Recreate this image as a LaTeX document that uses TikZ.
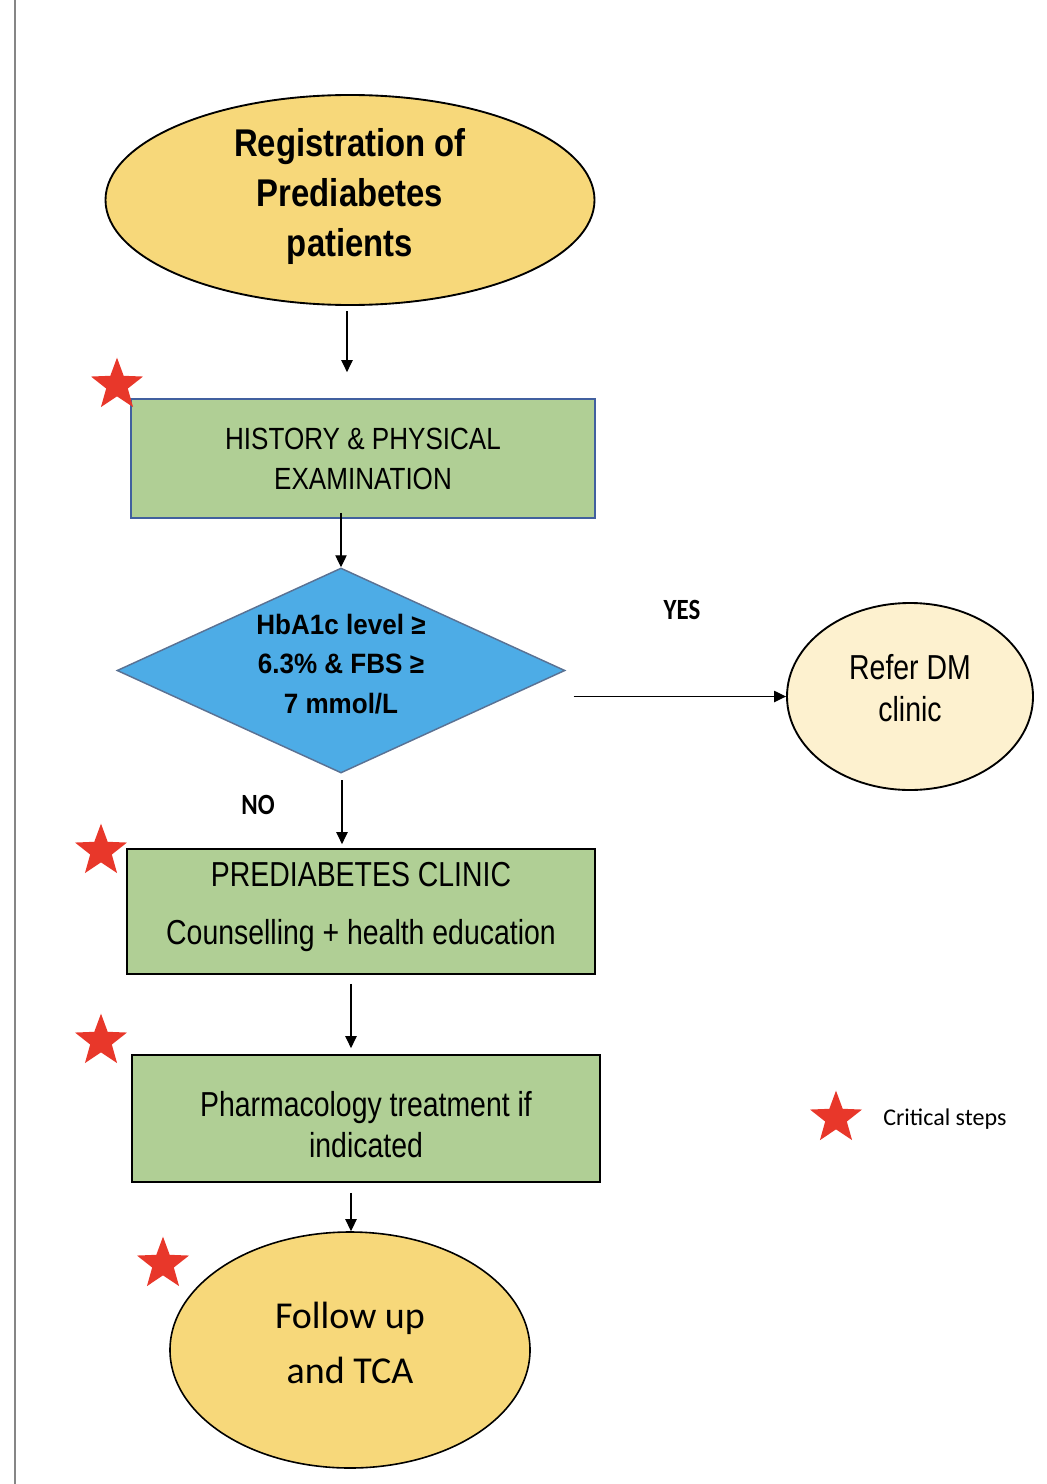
\documentclass[tikz,border=0pt]{standalone}
\usepackage{fontspec}
\setmainfont{Liberation Sans}
\newfontfamily\narrowfont{Liberation Sans}[FakeStretch=0.82]
\newfontfamily\headfont{Liberation Sans}[FakeStretch=0.85]
\newfontfamily\diafont{Liberation Sans}[FakeStretch=0.93]
\newfontfamily\calfont{Carlito}
\newfontfamily\calnarrow{Carlito}[FakeStretch=0.85]
\usetikzlibrary{shapes.geometric,arrows.meta}
\definecolor{termyellow}{HTML}{F7D87A}
\definecolor{boxgreen}{HTML}{B0CF95}
\definecolor{diablue}{HTML}{4DACE6}
\definecolor{diaedge}{HTML}{5A7294}
\definecolor{paleyellow}{HTML}{FDF1CF}
\definecolor{boxblue}{HTML}{41609F}
\definecolor{starred}{HTML}{E8372A}
\definecolor{railgray}{HTML}{868686}
\begin{document}
\begin{tikzpicture}[x=0.75pt,y=-0.75pt,
  terminal/.style={ellipse, draw=black, line width=1.4pt, fill=termyellow, inner sep=0pt},
  greenbox/.style={rectangle, draw=black, line width=1.3pt, fill=boxgreen, inner sep=0pt},
  decision/.style={diamond, aspect=2.185, draw=diaedge, line width=1.1pt, fill=diablue, inner sep=0pt},
  referoval/.style={ellipse, draw=black, line width=1.4pt, fill=paleyellow, inner sep=0pt},
  caption/.style={inner sep=0pt, align=center},
  flow/.style={draw=black, line width=0.9pt, -{Triangle[length=9pt,width=8.5pt]}},
  critstar/.style={star, star points=5, star point ratio=2.4, fill=starred, draw=none, minimum size=41pt, inner sep=0pt},
  branchlabel/.style={font={\calnarrow\bfseries\fontsize{22}{26}\selectfont}, inner sep=0pt}
]
\useasboundingbox (0,0) rectangle (1046,1484);
\coordinate (railtop) at (15,0);
\coordinate (railbot) at (15,1484);
\draw[railgray, line width=1.5pt] (railtop) -- (railbot);

% shapes
\node[terminal, minimum width=366.75pt, minimum height=157.5pt] (reg) at (350,200) {};
\node[greenbox, draw=boxblue, minimum width=348pt, minimum height=89.25pt] (hist) at (363,458.5) {};
\node[decision, minimum width=336pt, minimum height=153.75pt] (dia) at (341,670.5) {};
\node[referoval, minimum width=184.5pt, minimum height=140.25pt] (refer) at (910,696.5) {};
\node[greenbox, minimum width=351pt, minimum height=93.75pt] (prec) at (361,911.5) {};
\node[greenbox, minimum width=351pt, minimum height=95.25pt] (pharm) at (366,1118.5) {};
\node[terminal, line width=1.2pt, minimum width=270pt, minimum height=177pt] (follow) at (350,1350) {};

% texts
\node[caption, font={\headfont\bfseries\fontsize{29}{37.5}\selectfont}] (regtext)
  at ([yshift=2.6pt]reg.center) {Registration of\\Prediabetes\\patients};
\node[caption, font={\headfont\fontsize{23}{30}\selectfont}] (histtext)
  at ([yshift=-0.5pt]hist.center) {HISTORY \& PHYSICAL\\EXAMINATION};
\node[caption, font={\diafont\bfseries\fontsize{21}{29.6}\selectfont}] (diatext)
  at ([yshift=4.9pt]dia.center) {HbA1c level ≥\\6.3\% \& FBS ≥\\7 mmol/L};
\node[caption, font={\narrowfont\fontsize{26}{31.5}\selectfont}] (refertext)
  at ([yshift=6pt]refer.center) {Refer DM\\clinic};
\node[caption, font={\narrowfont\fontsize{26}{43.5}\selectfont}] (prectext)
  at ([yshift=3.75pt]prec.center) {PREDIABETES CLINIC\\Counselling + health education};
\node[caption, font={\narrowfont\fontsize{26}{30.75}\selectfont}] (pharmtext)
  at ([yshift=-4.5pt]pharm.center) {Pharmacology treatment if\\indicated};
\node[caption, font={\calfont\fontsize{28.5}{41}\selectfont}] (followtext)
  at ([yshift=5.25pt]follow.center) {Follow up\\and TCA};

% connectors
\draw[flow, shorten <=4pt, shorten >=19.5pt] ([xshift=-2.25pt]reg.south) -- ([xshift=-2.25pt]reg.south |- hist.north);
\draw[flow, shorten <=-4.5pt] (dia.north |- hist.south) -- (dia.north);
\draw[flow, shorten <=6pt] (dia.east |- refer.west) -- (refer.west);
\draw[flow, shorten <=5pt, shorten >=3pt] ([xshift=0.75pt]dia.south) -- ([xshift=0.75pt]dia.south |- prec.north);
\draw[flow, shorten <=6.75pt, shorten >=4.5pt] ([xshift=-7.5pt]prec.south) -- ([xshift=-7.5pt]prec.south |- pharm.north);
\draw[flow, shorten <=7.5pt] ([xshift=-11.25pt]pharm.south) -- ([xshift=-11.25pt]pharm.south |- follow.north);

% labels
\node[branchlabel] (yes) at (682,610) {YES};
\node[branchlabel] (no) at (258,805) {NO};

% critical step stars
\node[critstar] (star1) at (117,385) {};
\node[critstar] (star2) at (101,851) {};
\node[critstar] (star3) at (101,1041) {};
\node[critstar] (star4) at (163,1264) {};
\node[critstar] (legstar) at (836,1118) {};
\node[font={\calfont\fontsize{18}{22}\selectfont}, anchor=west, inner sep=0pt] (legtext) at (883,1119) {Critical steps};
\end{tikzpicture}
\end{document}
